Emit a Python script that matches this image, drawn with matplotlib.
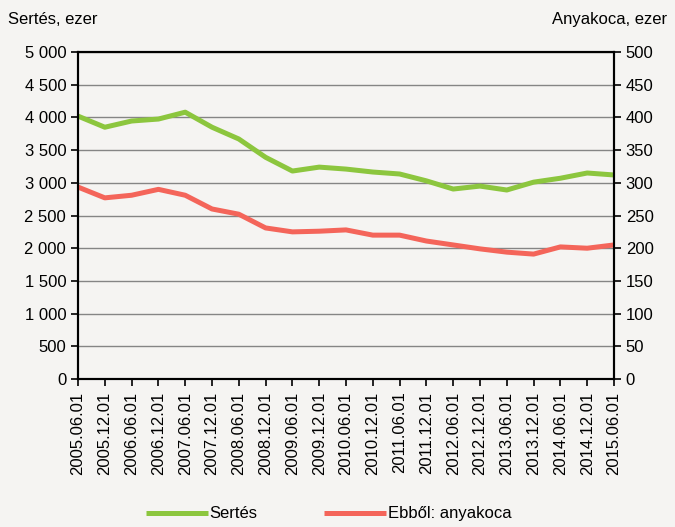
import numpy as np
import matplotlib
matplotlib.use("Agg")
from matplotlib import pyplot as plt

dates = ['2005.06.01', '2005.12.01', '2006.06.01', '2006.12.01', '2007.06.01',
         '2007.12.01', '2008.06.01', '2008.12.01', '2009.06.01', '2009.12.01',
         '2010.06.01', '2010.12.01', '2011.06.01', '2011.12.01', '2012.06.01',
         '2012.12.01', '2013.06.01', '2013.12.01', '2014.06.01', '2014.12.01',
         '2015.06.01']
sertes = [4020, 3850, 3945, 3975, 4080, 3850, 3670, 3390, 3180, 3240,
          3210, 3165, 3135, 3030, 2905, 2950, 2890, 3010, 3070, 3150, 3120]
anyakoca = [293.5, 277, 281, 290, 281, 260, 252, 231, 225, 226,
            228, 220, 220, 211, 205, 199, 194, 191, 202, 200, 205]

left_ticks = np.arange(0, 5001, 500)
right_ticks = np.arange(0, 501, 50)

def fmt(v):
    return f"{v:,}".replace(",", " ")

plt.rcParams['font.family'] = ['Liberation Sans', 'DejaVu Sans']
bg = '#f5f4f2'

fig = plt.figure(figsize=(6.75, 5.27), dpi=100, facecolor=bg)
ax = fig.add_axes([0.1156, 0.2808, 0.794, 0.6205])
ax.set_facecolor(bg)
ax2 = ax.twinx()

x = np.arange(len(dates))
l1, = ax.plot(x, sertes, color='#8cc63e', lw=3.6, label='Sertés', solid_capstyle='butt')
l2, = ax2.plot(x, anyakoca, color='#f4655a', lw=3.6, label='Ebből: anyakoca', solid_capstyle='butt')

ax.set_xlim(0, len(dates) - 1)
ax.set_ylim(0, 5000)
ax2.set_ylim(0, 500)
ax.set_yticks(left_ticks)
ax.set_yticklabels([fmt(v) for v in left_ticks])
ax2.set_yticks(right_ticks)
ax2.set_yticklabels([str(v) for v in right_ticks])
ax.set_xticks(x)
ax.set_xticklabels(dates, rotation=90)

for a in (ax, ax2):
    a.tick_params(labelsize=12, direction='out', length=5, width=1.2, color='black')
    for s in a.spines.values():
        s.set_color('black')
        s.set_linewidth(1.5)
ax.tick_params(axis='x', pad=4)
ax.yaxis.grid(True, color='#858585', lw=1)
ax.set_axisbelow(True)

fig.text(0.012, 0.955, 'Sertés, ezer', fontsize=12, ha='left')
fig.text(0.988, 0.955, 'Anyakoca, ezer', fontsize=12, ha='right')

fig.legend(handles=[l1, l2], loc='lower center', ncol=2, frameon=False,
           fontsize=12, bbox_to_anchor=(0.487, -0.018), handlelength=3.7,
           handletextpad=0.1, columnspacing=4)

fig.savefig('out.png', dpi=100, facecolor=bg)
